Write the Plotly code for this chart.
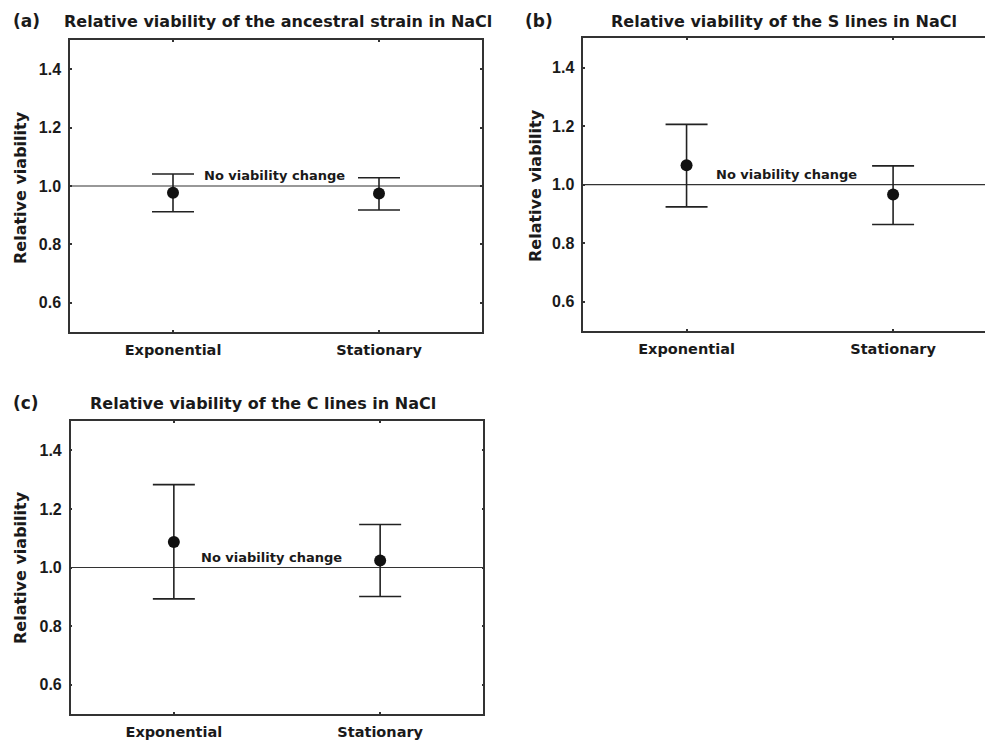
import plotly.graph_objects as go

categories = ["Exponential", "Stationary"]

# panel (a) ancestral strain
a_mean = [0.977, 0.974]
a_upper = [1.041, 1.028]
a_lower = [0.912, 0.918]

# panel (b) S lines
b_mean = [1.066, 0.966]
b_upper = [1.206, 1.064]
b_lower = [0.924, 0.864]

# panel (c) C lines
c_mean = [1.087, 1.024]
c_upper = [1.283, 1.147]
c_lower = [0.893, 0.901]

y_ticks = [0.6, 0.8, 1.0, 1.2, 1.4]
y_ticklabels = ["0.6", "0.8", "1.0", "1.2", "1.4"]

titles = [
    "Relative viability of the ancestral strain in NaCl",
    "Relative viability of the S lines in NaCl",
    "Relative viability of the C lines in NaCl",
]
panel_letters = ["(a)", "(b)", "(c)"]
ref_label = "No viability change"
y_title = "Relative viability"

W, H = 985, 740
FONT = "DejaVu Sans"
NUMFONT = "Liberation Sans"
TXT = "#1a1a1a"
LINE = "#333333"


def px(x):
    return x / W


def py(y):
    return 1 - y / H


panels = [
    dict(mean=a_mean, up=a_upper, lo=a_lower, xd=[px(70), px(482)], yd=[py(332), py(40)],
         xr=[-0.5, 1.5], mirror_y=True, title_x=278, title_y=21, letter_x=26, letter_y=21,
         ytitle_x=20, ytitle_y=188, label_x=0.495),
    dict(mean=b_mean, up=b_upper, lo=b_lower, xd=[px(583.3), 1.0], yd=[py(331), py(38.3)],
         xr=[-0.5, 1.445], mirror_y=False, title_x=784, title_y=21, letter_x=539, letter_y=21,
         ytitle_x=535, ytitle_y=186, label_x=0.484),
    dict(mean=c_mean, up=c_upper, lo=c_lower, xd=[px(70.7), px(483.3)], yd=[py(714), py(421)],
         xr=[-0.5, 1.5], mirror_y=True, title_x=263, title_y=403, letter_x=26, letter_y=403,
         ytitle_x=20, ytitle_y=568, label_x=0.474),
]

fig = go.Figure()
annotations = []
shapes = []

for i, p in enumerate(panels):
    n = "" if i == 0 else str(i + 1)
    xa, ya = "x" + n, "y" + n
    err_plus = [u - m for u, m in zip(p["up"], p["mean"])]
    err_minus = [m - l for m, l in zip(p["mean"], p["lo"])]
    fig.add_trace(go.Scatter(
        x=[0, 1], y=p["mean"], mode="markers", xaxis=xa, yaxis=ya,
        marker=dict(size=12, color="#111111"),
        error_y=dict(type="data", symmetric=False, array=err_plus, arrayminus=err_minus,
                     color="#222222", thickness=1.6, width=21),
        showlegend=False, hoverinfo="skip",
    ))
    fig.layout["xaxis" + n] = dict(
        domain=p["xd"], range=p["xr"], anchor=ya,
        tickmode="array", tickvals=[0, 1], ticktext=categories,
        showgrid=False, zeroline=False, showline=True, linecolor=LINE, linewidth=1.5,
        mirror="ticks", ticks="inside", ticklen=2, tickwidth=1.5, tickcolor=LINE,
        tickfont=dict(family=FONT, size=14.5, color=TXT, weight="bold"),
        ticklabelstandoff=4,
    )
    fig.layout["yaxis" + n] = dict(
        domain=p["yd"], range=[0.5, 1.5], anchor=xa,
        tickmode="array", tickvals=y_ticks, ticktext=y_ticklabels,
        showgrid=False, zeroline=False, showline=True, linecolor=LINE, linewidth=1.5,
        mirror="ticks" if p["mirror_y"] else False, ticks="inside", ticklen=2, tickwidth=1.5,
        tickcolor=LINE,
        tickfont=dict(family=NUMFONT, size=16, color=TXT, weight="bold"),
        ticklabelstandoff=4,
    )
    shapes.append(dict(type="line", xref=xa + " domain", yref=ya, x0=0, x1=1, y0=1.0, y1=1.0,
                       line=dict(color=LINE, width=1.2), layer="below"))
    annotations.append(dict(text=ref_label, xref=xa, yref=ya, x=p["label_x"], y=1.0,
                            xanchor="center", yanchor="bottom", yshift=1, showarrow=False,
                            font=dict(family=FONT, size=13, color=TXT, weight="bold")))
    annotations.append(dict(text=titles[i], xref="paper", yref="paper",
                            x=px(p["title_x"]), y=py(p["title_y"]),
                            xanchor="center", yanchor="middle", showarrow=False,
                            font=dict(family=FONT, size=16, color=TXT, weight="bold")))
    annotations.append(dict(text=panel_letters[i], xref="paper", yref="paper",
                            x=px(p["letter_x"]), y=py(p["letter_y"]),
                            xanchor="center", yanchor="middle", showarrow=False,
                            font=dict(family=FONT, size=17, color=TXT, weight="bold")))
    annotations.append(dict(text=y_title, xref="paper", yref="paper",
                            x=px(p["ytitle_x"]), y=py(p["ytitle_y"]), textangle=-90,
                            xanchor="center", yanchor="middle", showarrow=False,
                            font=dict(family=FONT, size=16, color=TXT, weight="bold")))

fig.update_layout(
    width=W, height=H, autosize=False,
    margin=dict(l=0, r=0, t=0, b=0),
    paper_bgcolor="white", plot_bgcolor="white",
    annotations=annotations, shapes=shapes,
    showlegend=False,
)

fig.write_html("out.html", config={"displayModeBar": False},
               post_script="document.body.style.margin='0';document.body.style.overflow='hidden';")
